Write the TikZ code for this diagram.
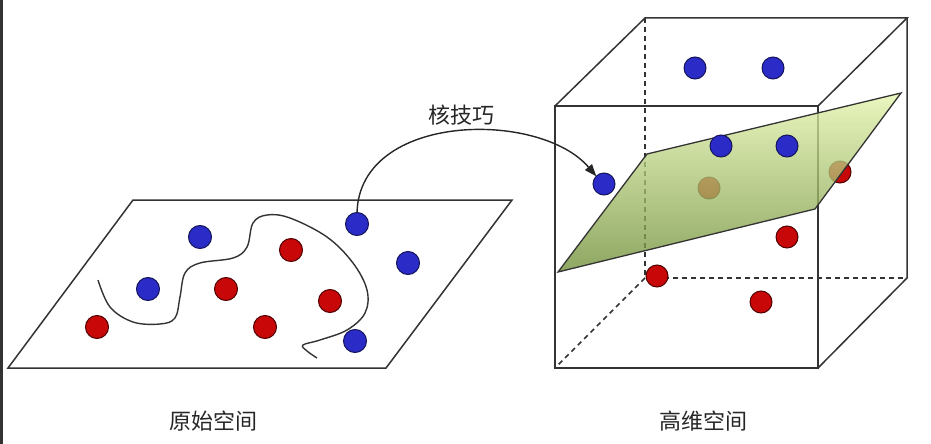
\documentclass[tikz,border=0pt]{standalone}
\usepackage{fontspec}
\newfontfamily\cjk{Noto Sans CJK SC}
\usepackage{xcolor}
\usepackage{tikz}
\usetikzlibrary{arrows.meta,positioning}
\definecolor{dotblue}{HTML}{2B2BC8}
\definecolor{dotblueedge}{HTML}{14145A}
\definecolor{dotred}{HTML}{C80808}
\definecolor{dotrededge}{HTML}{500000}
\definecolor{planetop}{HTML}{E4F4AC}
\definecolor{planebot}{HTML}{6E8E36}
\tikzset{
  arrow/.style = {-{Triangle[length=12pt, width=9pt]}, line width=1.4pt, draw=black!85},
  line/.style = {line width=1.5pt, draw=black!80},
  hidden/.style = {line, dashed, dash pattern=on 5pt off 4pt},
  dot/.style = {circle, line width=1pt, inner sep=0, outer sep=0},
  bluedot/.style = {dot, draw=dotblueedge, fill=dotblue, minimum size=23pt},
  reddot/.style = {dot, draw=dotrededge, fill=dotred, minimum size=23pt},
  smalldot/.style = {minimum size=22pt},
  caption/.style = {font=\cjk\fontsize{22}{26}\selectfont, text=black!85, inner sep=0}
}
\begin{document}
\begin{tikzpicture}[x=1pt, y=-1pt]
  \useasboundingbox (0,0) rectangle (931,444);
  \fill[black!80] (0,0) rectangle (3,444);

  % original space
  \draw[line] (8,368) -- (133,200) -- (512,200) -- (386,368) -- cycle;
  \draw[line, line width=1.4pt] plot[smooth, tension=0.6] coordinates {
    (98,280) (110,307) (133,322) (160,324) (175,318) (180,297) (185,273)
    (200,263) (233,258) (247,247) (253,223) (267,215) (290,218) (327,237)
    (353,263) (367,290) (365,313) (347,330) (320,340) (303,345) (307,351) (317,358)};
  \foreach \name/\x/\y in {lb1/200/237, lb2/357/224, lb3/408/263, lb4/148/289, lb5/355/341} {
    \node[bluedot] (\name) at (\x,\y) {};
  }
  \foreach \name/\x/\y in {lr1/291/250, lr2/226/289, lr3/330/301, lr4/97/327, lr5/265/327} {
    \node[reddot] (\name) at (\x,\y) {};
  }

  % high-dimensional space
  \draw[hidden] (645,18) -- (645,278) -- (907,278);
  \draw[hidden] (645,278) -- (555,368);
  \draw[line] (555,106) -- (645,18) -- (907,18) -- (818,106);
  \draw[line] (907,18) -- (907,278) -- (818,368);
  \draw[line] (555,106) rectangle (818,368);

  % points behind the plane
  \node[reddot, smalldot] (hr1) at (709,188) {};
  \node[reddot, smalldot] (hr2) at (840,172) {};

  % separating plane
  \shade[top color=planetop, bottom color=planebot, opacity=0.78]
    (558,272) -- (647,154) -- (901,93) -- (815,209) -- cycle;
  \draw[line, line width=1.3pt] (558,272) -- (647,154) -- (901,93) -- (815,209) -- cycle;

  \foreach \name/\x/\y in {hb1/695/68, hb2/773/68, hb3/721/146, hb4/787/146, hb5/604/184} {
    \node[bluedot, smalldot] (\name) at (\x,\y) {};
  }
  \foreach \name/\x/\y in {hr3/787/237, hr4/657/276, hr5/761/302} {
    \node[reddot, smalldot] (\name) at (\x,\y) {};
  }

  % kernel trick
  \draw[arrow] (lb2.north) .. controls (360,112) and (540,110) .. (hb5.north west);
  \node[caption] (trick) at (461,115) {核技巧};

  \node[caption] (orig) at (213,421) {原始空间};
  \node[caption] (high) at (703,421) {高维空间};
\end{tikzpicture}
\end{document}
